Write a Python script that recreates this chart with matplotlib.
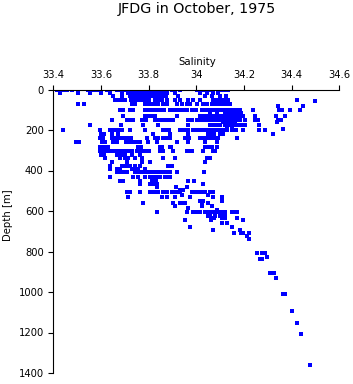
import matplotlib
matplotlib.use('Agg')
import matplotlib.pyplot as plt

plt.rcParams['font.family'] = ['DejaVu Sans']

# Depth levels (m) and the salinity readings found at each level
depth_levels = [0, 15, 30, 50, 57, 72, 80, 100, 115, 130, 150, 160, 175, 195, 200,
                220, 240, 258, 282, 302, 322, 340, 358, 378, 393, 406, 430, 452,
                467, 481, 496, 505, 521, 532, 550, 562, 575, 585, 595, 605, 625,
                635, 645, 660, 680, 692, 710, 723, 738, 807, 827, 837, 906, 931,
                1010, 1094, 1153, 1209, 1362]

salinity_rows = [
    [33.415, 33.428, 33.441, 33.457, 33.478, 33.546, 33.558, 33.575, 33.588, 33.625,
     33.667, 33.680, 33.692, 33.705, 33.718, 33.730, 33.743, 33.755, 33.768, 33.781,
     33.793, 33.806, 33.818, 33.831, 33.844, 33.856, 33.869, 33.898, 33.932, 34.003,
     34.016, 34.028, 34.045, 34.058, 34.070, 34.108, 34.117, 34.133],
    [33.428, 33.504, 33.554, 33.600, 33.638, 33.688, 33.714, 33.726, 33.739, 33.751,
     33.764, 33.776, 33.789, 33.802, 33.814, 33.827, 33.840, 33.852, 33.865, 33.877,
     33.911, 34.016, 34.045, 34.070, 34.091],
    [33.651, 33.688, 33.722, 33.734, 33.747, 33.760, 33.772, 33.785, 33.798, 33.810,
     33.823, 33.835, 33.848, 33.861, 33.873, 33.924, 34.037, 34.066, 34.100, 34.125],
    [33.659, 33.671, 33.688, 33.701, 33.726, 33.739, 33.751, 33.764, 33.776, 33.789,
     33.802, 33.827, 33.840, 33.856, 33.877, 33.911, 33.932, 33.966, 33.987, 34.016,
     34.070, 34.083, 34.100, 34.117, 34.133, 34.423],
    [34.499],
    [33.504, 33.529, 33.730, 33.743, 33.785, 33.798, 33.814, 33.827, 33.840, 33.861,
     33.877, 33.919, 33.940, 33.961, 33.974, 34.003, 34.028, 34.045, 34.066, 34.079,
     34.091, 34.108, 34.125, 34.142],
    [34.344, 34.449],
    [33.680, 33.692, 33.722, 33.734, 33.785, 33.798, 33.810, 33.827, 33.840, 33.852,
     33.865, 33.890, 33.903, 33.915, 33.928, 33.945, 33.961, 33.982, 33.999, 34.024,
     34.037, 34.049, 34.062, 34.075, 34.087, 34.100, 34.117, 34.133, 34.150, 34.167,
     34.184, 34.238, 34.348, 34.360, 34.394, 34.436],
    [34.058, 34.087, 34.121, 34.138, 34.154, 34.171, 34.188],
    [33.692, 33.785, 33.798, 33.814, 33.827, 33.919, 34.016, 34.028, 34.041, 34.054,
     34.066, 34.079, 34.091, 34.104, 34.117, 34.129, 34.142, 34.154, 34.167, 34.180,
     34.192, 34.196, 34.247, 34.335, 34.373],
    [33.646, 33.709, 33.722, 33.734, 33.772, 33.789, 33.827, 33.840, 33.852, 33.865,
     33.877, 33.890, 33.903, 33.966, 33.982, 34.003, 34.016, 34.028, 34.041, 34.054,
     34.066, 34.079, 34.096, 34.108, 34.121, 34.133, 34.146, 34.159, 34.171, 34.184,
     34.205, 34.247, 34.259, 34.344, 34.356],
    [34.112, 34.129, 34.146, 34.163, 34.340],
    [33.554, 33.684, 33.776, 33.840, 33.966, 34.066, 34.058, 34.083, 34.100, 34.121,
     34.138, 34.154, 34.171, 34.188, 34.205, 34.264],
    [34.365, 34.129, 34.150],
    [33.441, 33.596, 33.638, 33.651, 33.663, 33.675, 33.688, 33.722, 33.785, 33.861,
     33.873, 33.886, 33.932, 33.949, 33.966, 33.987, 33.999, 34.016, 34.033, 34.049,
     34.066, 34.079, 34.096, 34.112, 34.129, 34.150, 34.167, 34.196, 34.264, 34.289],
    [33.600, 33.613, 33.646, 33.671, 33.818, 33.890, 33.966, 34.049, 34.062, 34.075,
     34.100, 34.112, 34.322],
    [33.596, 33.609, 33.646, 33.663, 33.680, 33.697, 33.714, 33.726, 33.793, 33.827,
     33.840, 33.861, 33.877, 33.890, 33.953, 33.970, 34.016, 34.033, 34.049, 34.066,
     34.079, 34.091, 34.171],
    [33.495, 33.508, 33.604, 33.617, 33.651, 33.667, 33.705, 33.722, 33.734, 33.747,
     33.764, 33.798, 33.835, 33.919, 33.966, 34.037, 34.087],
    [33.596, 33.613, 33.630, 33.755, 33.768, 33.848, 33.856, 33.890, 33.894, 34.037,
     34.049, 34.066, 34.087],
    [33.596, 33.613, 33.625, 33.638, 33.651, 33.663, 33.675, 33.688, 33.705, 33.722,
     33.730, 33.751, 33.768, 33.785, 33.802, 33.848, 33.861, 33.903, 33.961, 33.974,
     33.982, 34.028, 34.070, 34.079],
    [33.600, 33.613, 33.667, 33.684, 33.701, 33.730, 33.764],
    [33.617, 33.680, 33.701, 33.714, 33.743, 33.772, 33.861, 33.911, 34.045, 34.058],
    [33.646, 33.709, 33.772, 33.806, 34.037],
    [33.638, 33.688, 33.705, 33.722, 33.743, 33.764, 33.882, 33.898],
    [33.638, 33.667, 33.680, 33.730, 33.743, 33.755, 33.785],
    [33.667, 33.680, 33.692, 33.709, 33.743, 33.755, 33.768, 33.781, 33.793, 33.806,
     33.818, 33.831, 33.844, 33.856, 33.869, 33.882, 33.890, 33.919, 34.033],
    [33.638, 33.734, 33.755, 33.785, 33.806, 33.818, 33.835, 33.848, 33.869, 33.882,
     33.890],
    [33.680, 33.692, 33.764, 33.814, 33.831, 33.966, 33.991],
    [33.764, 33.806, 33.823, 33.835, 34.028],
    [33.835, 33.915, 33.961],
    [33.932, 33.945],
    [33.709, 33.722, 33.764, 33.806, 33.818, 33.831, 33.840, 33.861, 33.877, 33.898,
     33.911, 33.924, 33.932, 33.982, 33.995, 34.008, 34.024, 34.037, 34.058, 34.070],
    [33.940, 34.049],
    [33.714, 33.856, 33.877, 33.911, 33.974, 34.070, 34.108],
    [34.016, 34.028, 34.108],
    [33.776, 33.903, 33.932, 33.940, 33.953, 34.024, 34.049],
    [33.911, 34.024, 34.066],
    [33.966],
    [34.087],
    [33.835, 33.961, 33.987, 33.995, 34.008, 34.016, 34.037, 34.045, 34.058, 34.070,
     34.083, 34.096, 34.108, 34.121, 34.150, 34.163, 34.171],
    [34.049, 34.058, 34.079, 34.100, 34.112, 34.121],
    [34.066, 34.075, 34.108, 34.121, 34.171],
    [33.953, 34.062, 34.196],
    [34.108, 34.129],
    [33.974, 34.150],
    [34.070, 34.184],
    [34.159, 34.188, 34.196, 34.222],
    [34.213],
    [34.222],
    [34.255, 34.276, 34.289],
    [34.297],
    [34.268, 34.276],
    [34.310, 34.327],
    [34.335],
    [34.365, 34.373],
    [34.402],
    [34.423],
    [34.440],
    [34.478],
]

x_ticks = [33.4, 33.6, 33.8, 34.0, 34.2, 34.4, 34.6]
x_tick_labels = ['33.4', '33.6', '33.8', '34', '34.2', '34.4', '34.6']
y_ticks = [0, 200, 400, 600, 800, 1000, 1200, 1400]
y_tick_labels = ['0', '200', '400', '600', '800', '1000', '1200', '1400']

sal = []
dep = []
for d, row in zip(depth_levels, salinity_rows):
    sal.extend(row)
    dep.extend([d] * len(row))

W, H = 353, 384
fig = plt.figure(figsize=(W / 100, H / 100), dpi=100)
x0, x1 = 53.3, 339.3
y0, y1 = 89.5, 373.0
ax = fig.add_axes([x0 / W, 1 - y1 / H, (x1 - x0) / W, (y1 - y0) / H])

ax.plot(sal, dep, linestyle='none', marker='s', markersize=2.4,
        markeredgewidth=0, color='#0000ff', antialiased=False)

ax.set_xlim(33.4, 34.6)
ax.set_ylim(1400, 0)
ax.xaxis.tick_top()
ax.set_xticks(x_ticks)
ax.set_xticklabels(x_tick_labels)
ax.set_yticks(y_ticks)
ax.set_yticklabels(y_tick_labels)
ax.tick_params(axis='x', direction='out', length=3.6, width=0.8, pad=3.0,
               labelsize=7.2, colors='black')
ax.tick_params(axis='y', direction='out', length=3.6, width=0.8, pad=3.3,
               labelsize=7.2, colors='black')
for s in ['right', 'bottom']:
    ax.spines[s].set_visible(False)
for s in ['top', 'left']:
    ax.spines[s].set_linewidth(0.8)

fig.text(196.5 / W, 1 - 12.7 / H, 'JFDG in October, 1975', ha='center',
         va='baseline', fontsize=10.3)
fig.text(197 / W, 1 - 65 / H, 'Salinity', ha='center', va='baseline',
         fontsize=7.3)
fig.text(8.5 / W, 1 - 215 / H, 'Depth [m]', ha='center', va='center',
         rotation=90, fontsize=7.3)

fig.savefig('out.png', dpi=100)
